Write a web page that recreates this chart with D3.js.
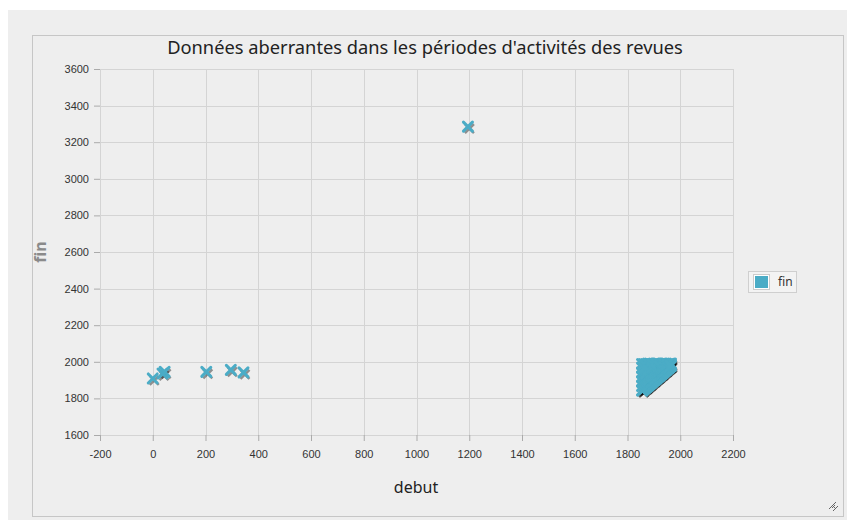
<!DOCTYPE html>
<html>
<head>
<meta charset="utf-8">
<script src="https://cdn.jsdelivr.net/npm/d3@7"></script>
<style>
  body { margin: 0; background: #fff; }
  svg { font-family: "Noto Sans", "Open Sans", sans-serif; }
  .grid line { stroke: #d4d4d4; stroke-width: 1; }
  .axis path { display: none; }
  .axis line { stroke: #aaa; }
  .axis text { fill: #333; font-size: 11px; }
</style>
</head>
<body>
<div id="chart"></div>
<script>
// outliers
var outDebut = [0, 37, 45, 203, 296, 344, 1195];
var outFin   = [1909, 1936, 1945, 1945, 1956, 1942, 3285];

// the dense block of journals between 1850 and 1970
var clusterDebut = [1855,1855,1855,1855,1855,1855,1855,
                    1870,1870,1870,1870,1870,1870,
                    1885,1885,1885,1885,1885,1885,
                    1900,1900,1900,1900,1900,
                    1915,1915,1915,1915,
                    1930,1930,1930,
                    1945,1945,1945,
                    1960,1960,
                    1965,1965,
                    1862,1878,1893,1908,1922,1938,1952,
                    1862,1878,1893,1908,1922,1938,1952,1962];
var clusterFin   = [1843,1868,1893,1918,1943,1968,1988,
                    1862,1887,1912,1937,1962,1988,
                    1880,1905,1930,1955,1980,1990,
                    1899,1924,1949,1974,1990,
                    1918,1943,1968,1990,
                    1936,1961,1986,
                    1955,1980,1990,
                    1974,1990,
                    1980,1990,
                    1988,1990,1988,1990,1988,1990,1988,
                    1965,1955,1970,1960,1975,1970,1985,1982];

// journals that ended the year they started (the dark diagonal)
var diagDebut = [1856,1859,1862,1865,1868,1871,1874,1877,1880,1883,1886,1889,1892,1895,1898,1901,1904,1907,1910,1913,1916,1919,1922,1925,1928,1931,1934,1937,1940,1943,1946,1949,1952,1955,1958,1961,1964];
var diagFin   = [1844,1848,1852,1856,1859,1863,1867,1870,1874,1878,1882,1885,1889,1893,1897,1900,1904,1908,1911,1915,1919,1922,1926,1930,1934,1937,1941,1945,1949,1952,1956,1960,1964,1967,1971,1975,1978];

var xTicks = [-200,0,200,400,600,800,1000,1200,1400,1600,1800,2000,2200];
var yTicks = [1600,1800,2000,2200,2400,2600,2800,3000,3200,3400,3600];

var seriesName = "fin";
var color = "#4bacc6";

var W = 847, H = 525;
var margin = {top: 69, right: 114, bottom: 90, left: 100},
    width = W - margin.left - margin.right,
    height = H - margin.top - margin.bottom;

var svg = d3.select("#chart").append("svg")
    .attr("width", W)
    .attr("height", H);

// panel backgrounds
svg.append("rect")
    .attr("x", 8).attr("y", 10).attr("width", W - 8).attr("height", 510)
    .attr("fill", "#eeeeee");
svg.append("rect")
    .attr("x", 32.5).attr("y", 35.5).attr("width", 811).attr("height", 481)
    .attr("fill", "#eeeeee").attr("stroke", "#c6c6c6");

var g = svg.append("g")
    .attr("transform", "translate(" + margin.left + "," + margin.top + ")");

var x = d3.scaleLinear().domain([-200, 2200]).range([0, width]);
var y = d3.scaleLinear().domain([1600, 3600]).range([height, 0]);

var fmt = function(d) { return d < 0 ? "-" + Math.abs(d) : "" + d; };

// GRID
g.append("g").attr("class", "grid")
  .selectAll("line").data(xTicks).enter().append("line")
    .attr("x1", function(d) { return Math.round(x(d)) + 0.5; })
    .attr("x2", function(d) { return Math.round(x(d)) + 0.5; })
    .attr("y1", 0).attr("y2", height);
g.append("g").attr("class", "grid")
  .selectAll("line").data(yTicks).enter().append("line")
    .attr("y1", function(d) { return Math.round(y(d)) + 0.5; })
    .attr("y2", function(d) { return Math.round(y(d)) + 0.5; })
    .attr("x1", 0).attr("x2", width);

// AXES
g.append("g")
    .attr("class", "x axis")
    .attr("transform", "translate(0," + height + ")")
    .call(d3.axisBottom(x).tickValues(xTicks).tickFormat(fmt).tickSize(6).tickPadding(9));

g.append("g")
    .attr("class", "y axis")
    .call(d3.axisLeft(y).tickValues(yTicks).tickFormat(fmt).tickSize(6).tickPadding(5));

// TITLES
svg.append("text")
    .attr("x", 425).attr("y", 54)
    .attr("text-anchor", "middle")
    .style("font-size", "18.3px").style("fill", "#222")
    .text("Données aberrantes dans les périodes d'activités des revues");

svg.append("text")
    .attr("x", 416).attr("y", 493)
    .attr("text-anchor", "middle")
    .style("font-size", "16px").style("fill", "#222")
    .text("debut");

svg.append("text")
    .attr("transform", "translate(46,252) rotate(-90)")
    .attr("text-anchor", "middle")
    .style("font-size", "16px").style("font-weight", "bold").style("fill", "#8a8a8a")
    .text("fin");

// POINTS
var points = [];
outDebut.forEach(function(d, i) { points.push({debut: d, fin: outFin[i]}); });
clusterDebut.forEach(function(d, i) { points.push({debut: d, fin: clusterFin[i]}); });
diagDebut.forEach(function(d, i) { points.push({debut: d, fin: diagFin[i]}); });

var s = 4.5;
function cross(d) {
  var cx = x(d.debut), cy = y(d.fin);
  return "M" + (cx - s) + "," + (cy - s) + "L" + (cx + s) + "," + (cy + s) +
         "M" + (cx - s) + "," + (cy + s) + "L" + (cx + s) + "," + (cy - s);
}

// shadows first, then markers
g.append("g").selectAll("path").data(points).enter().append("path")
    .attr("d", cross)
    .attr("transform", "translate(1.5,2)")
    .attr("fill", "none")
    .attr("stroke", "#000")
    .attr("stroke-opacity", 0.4)
    .attr("stroke-width", 2.5);

g.append("g").selectAll("path").data(points).enter().append("path")
    .attr("d", cross)
    .attr("fill", "none")
    .attr("stroke", color)
    .attr("stroke-width", 3)
    .attr("stroke-linecap", "round");

// LEGEND
var leg = svg.append("g").attr("transform", "translate(748,271)");
leg.append("rect")
    .attr("x", 0.5).attr("y", 0.5).attr("width", 48).attr("height", 21)
    .attr("fill", "#f3f3f3").attr("stroke", "#cfcfcf");
leg.append("rect")
    .attr("x", 5.5).attr("y", 3.5).attr("width", 16).attr("height", 15)
    .attr("fill", "#fff").attr("stroke", "#ccc");
leg.append("rect")
    .attr("x", 7).attr("y", 5).attr("width", 13).attr("height", 12)
    .attr("fill", color);
leg.append("text")
    .attr("x", 30).attr("y", 15)
    .style("font-size", "12px").style("fill", "#333")
    .text(seriesName);

// resize grip in the corner
var grip = svg.append("g").attr("stroke", "#666").attr("stroke-width", 1);
[0, 2, 4, 6].forEach(function(o) {
  grip.append("line")
      .attr("x1", 836 - o).attr("y1", 502 + o)
      .attr("x2", 829 + o).attr("y2", 509 - o)
      .attr("transform", "translate(" + (o / 2) + "," + (o / 2) + ")");
});
</script>
</body>
</html>
